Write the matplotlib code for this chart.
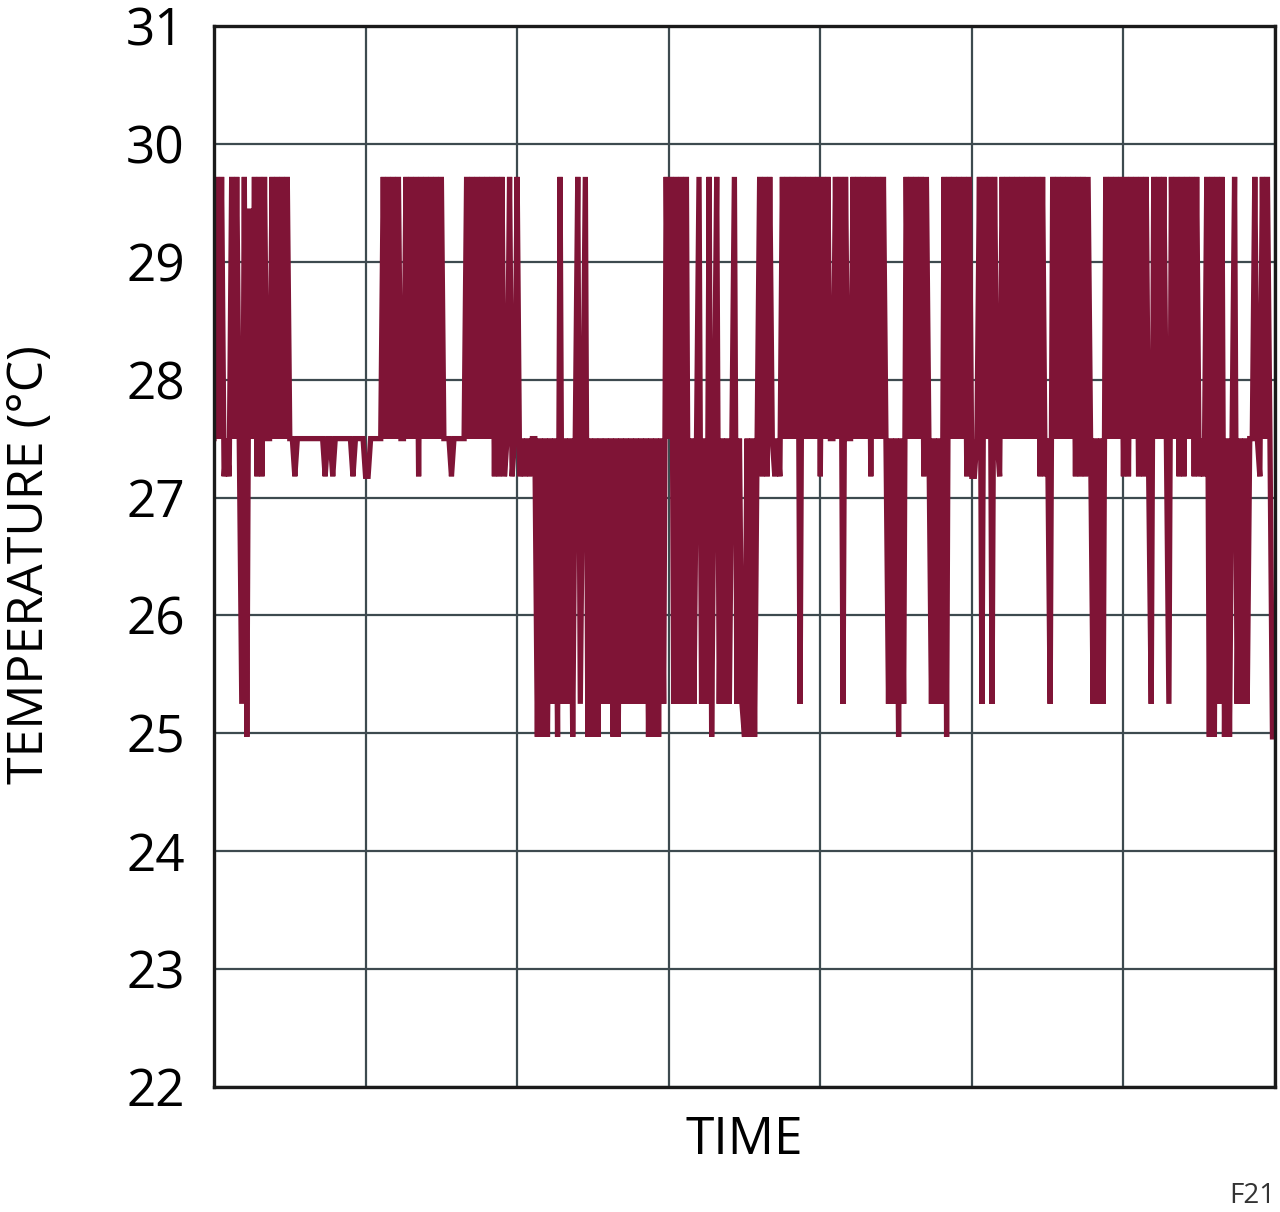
import numpy as np
import matplotlib
matplotlib.use("Agg")
import matplotlib.pyplot as plt

# temperature levels the sensor jumps between (deg C)
levels = {"H": 29.72, "h": 29.45, "M": 27.5, "m": 27.18, "L": 25.25, "l": 24.97}

# one char per sample left to right
trace = [
    "MHMHmMmHMHMLHlhMHmHmHMMHMHMHMHM",
    "MmMMMMMMMMMMMmMMmMMMMMMMmMMMMmmMMMMM",
    "HMHMHMHMMHMHMHmHMHMHMHMHMMMmMMMMM",
    "HMHMHMHMHMHmHmHmMHmMHmMmMmMM",
    "lMlMlMLMlHLMLMlMHLMHlMlMlMLMLMlMlMLMLMLMLMLMlMlMlML",
    "HMHLHLHLHLMLMHLMLHlMHLMLMLMHLMLlMlMlM",
    "HmHmHMmMmHMHMHMHLHMHMHMHmHMHMMHMHLH",
    "MMHMHMHMHmHMHMHM",
    "LMLMlMLHMHMHMHmHMLMLMLHlHMHMHMHmHmmMHLHMHLHM",
    "mHMHMHMHMHMHMHMHmHmMLHM",
    "HMHMHMHmHmHmHMLMLMLHMHMHMHmHmHMHmHmHmL",
    "HMHMHMLHMHmHmHMHmHmMmHlHlHLHlMlMHLMLMLMMHMmHMHMl",
]

temps = [levels[c] for c in "".join(trace)]
n_steps = 420
y_ticks = list(range(22, 32))

fig = plt.figure(figsize=(12.8, 12.12), dpi=100)
ax = fig.add_axes([214 / 1280, 1 - 1087 / 1212, 1061 / 1280, 1061 / 1212])

ax.plot(np.arange(len(temps)), temps, color="#7f1436", lw=3.8, solid_joinstyle="miter")

ax.set_xlim(0, n_steps)
ax.set_ylim(22, 31)
ax.set_xticks(np.arange(0, n_steps + 1, 60))
ax.set_xticklabels([])
ax.set_yticks(y_ticks)
ax.set_yticklabels([str(t) for t in y_ticks], fontsize=37, family="Open Sans")
ax.tick_params(length=0, pad=21)
ax.grid(True, color="#3d4a4f", lw=1.6)
ax.set_axisbelow(True)
for s in ax.spines.values():
    s.set_linewidth(2.4)
    s.set_color("#1a1a1a")

fig.text(30 / 1280, 1 - 565 / 1212, "TEMPERATURE (°C)", rotation=90, ha="center", va="center",
         fontsize=36, family="Open Sans")
fig.text(744 / 1280, 1 - 1140 / 1212, "TIME", ha="center", va="center", fontsize=37, family="Open Sans")
fig.text(1275 / 1280, 1 - 1196 / 1212, "F21", ha="right", va="center", fontsize=20, family="Open Sans",
         color="#333333")

fig.savefig("out.png", dpi=100)
